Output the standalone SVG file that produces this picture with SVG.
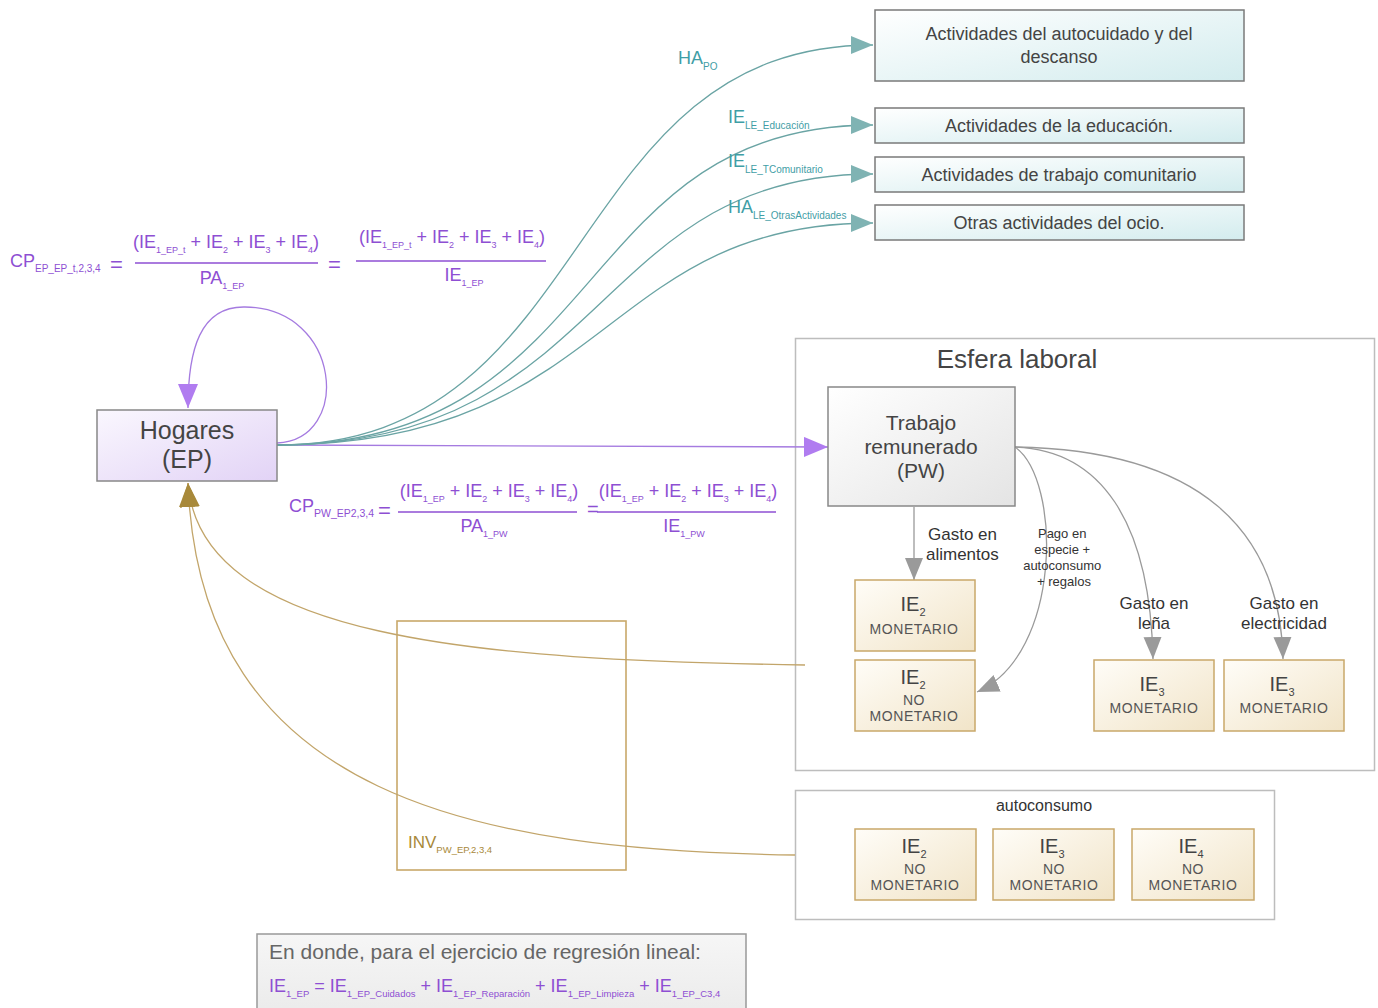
<svg xmlns="http://www.w3.org/2000/svg" width="1378" height="1008" viewBox="0 0 1378 1008">
  <style>
    text { font-family: "Liberation Sans", Arial, sans-serif; }
    .node { fill: #444; text-anchor: middle; }
    .purple { fill: #8e4fd3; }
    .teal { fill: #3f9ea6; }
    .tan { fill: #a8893a; }
    .lbl { fill: #333; text-anchor: middle; }
    .frame { fill: #fff; stroke: #bdbdbd; stroke-width: 1.5; }
    .beige { fill: url(#gBeige); stroke: #c9a86a; stroke-width: 1.5; }
    .tealbox { fill: url(#gTeal); stroke: #7a7a7a; stroke-width: 1.5; }
    .conn-teal { fill: none; stroke: #6aa4a4; stroke-width: 1.3; }
    .conn-gray { fill: none; stroke: #9a9a9a; stroke-width: 1.3; }
    .conn-purple { fill: none; stroke: #a57be0; stroke-width: 1.3; }
    .conn-tan { fill: none; stroke: #c2a56a; stroke-width: 1.3; }
    .fracline { stroke: #8e4fd3; stroke-width: 1.6; }
    .mon { fill: #555; text-anchor: middle; font-size: 14px; letter-spacing: 0.6px; }
  </style>
  <defs>
    <linearGradient id="gTeal" x1="0" y1="0" x2="1" y2="1">
      <stop offset="0" stop-color="#ffffff"/>
      <stop offset="1" stop-color="#d3ecee"/>
    </linearGradient>
    <linearGradient id="gBeige" x1="0" y1="0" x2="1" y2="1">
      <stop offset="0" stop-color="#fffdf8"/>
      <stop offset="1" stop-color="#f1e4c8"/>
    </linearGradient>
    <linearGradient id="gPurple" x1="0" y1="0" x2="1" y2="1">
      <stop offset="0" stop-color="#faf7fe"/>
      <stop offset="1" stop-color="#e2d3f6"/>
    </linearGradient>
    <linearGradient id="gGray" x1="0" y1="0" x2="1" y2="1">
      <stop offset="0" stop-color="#ffffff"/>
      <stop offset="1" stop-color="#e4e4e4"/>
    </linearGradient>
    <linearGradient id="gNote" x1="0" y1="0" x2="0" y2="1">
      <stop offset="0" stop-color="#f6f6f6"/>
      <stop offset="1" stop-color="#ebebeb"/>
    </linearGradient>
    <marker id="aTeal" markerUnits="userSpaceOnUse" markerWidth="24" markerHeight="20" refX="22" refY="9" orient="auto">
      <path d="M0,0 L22,9 L0,18 Z" fill="#7fb3b3"/>
    </marker>
    <marker id="aGray" markerUnits="userSpaceOnUse" markerWidth="24" markerHeight="20" refX="22" refY="9" orient="auto">
      <path d="M0,0 L22,9 L0,18 Z" fill="#9a9a9a"/>
    </marker>
    <marker id="aPurple" markerUnits="userSpaceOnUse" markerWidth="26" markerHeight="22" refX="24" refY="10" orient="auto">
      <path d="M0,0 L24,10 L0,20 Z" fill="#b07cf0"/>
    </marker>
    <marker id="aTan" markerUnits="userSpaceOnUse" markerWidth="26" markerHeight="22" refX="24" refY="10" orient="auto">
      <path d="M0,0 L24,10 L0,20 Z" fill="#a8893a"/>
    </marker>
  </defs>

  <rect width="1378" height="1008" fill="#ffffff"/>

  <!-- containers -->
  <g id="esfera-laboral">
    <rect class="frame" x="795.5" y="338.5" width="579" height="432"/>
    <text x="1017" y="368" font-size="26" fill="#444" text-anchor="middle">Esfera laboral</text>
  </g>
  <g id="autoconsumo">
    <rect class="frame" x="795.5" y="790.5" width="479" height="129"/>
    <text x="1044" y="811" font-size="16" fill="#333" text-anchor="middle">autoconsumo</text>
  </g>
  <g id="inv">
    <rect x="397" y="621" width="229" height="249" fill="none" stroke="#c9a86a" stroke-width="1.6"/>
    <text x="408" y="848" font-size="17" class="tan">INV<tspan font-size="9.5" dy="5">PW_EP,2,3,4</tspan></text>
  </g>

  <!-- connectors -->
  <g id="connectors">
    <path class="conn-purple" d="M277,443 C352,440 342,308 245,307 C200,306 188,350 188,408" marker-end="url(#aPurple)"/>
    <path class="conn-purple" d="M277,445 L828,447" marker-end="url(#aPurple)"/>
    <path class="conn-teal" d="M277,445 C600,445 560,45 873,45" marker-end="url(#aTeal)"/>
    <path class="conn-teal" d="M277,445 C610,445 570,125 873,125" marker-end="url(#aTeal)"/>
    <path class="conn-teal" d="M277,445 C610,445 590,174 873,174" marker-end="url(#aTeal)"/>
    <path class="conn-teal" d="M277,445 C610,445 600,223 873,223" marker-end="url(#aTeal)"/>
    <path class="conn-gray" d="M914,507 L914,580" marker-end="url(#aGray)"/>
    <path class="conn-gray" d="M1015,447 C1062,480 1062,655 977,692" marker-end="url(#aGray)"/>
    <path class="conn-gray" d="M1015,447 C1100,450 1150,520 1153,659" marker-end="url(#aGray)"/>
    <path class="conn-gray" d="M1015,447 C1200,450 1280,530 1283,659" marker-end="url(#aGray)"/>
    <path class="conn-tan" d="M805,665 C480,660 200,640 188,483" marker-end="url(#aTan)"/>
    <path class="conn-tan" d="M795,855 C480,850 200,800 188,483" marker-end="url(#aTan)"/>
  </g>

  <!-- connector labels -->
  <g id="connector-labels">
    <text x="678" y="64" font-size="18" class="teal">HA<tspan font-size="10" dy="6">PO</tspan></text>
    <text x="728" y="123" font-size="18" class="teal">IE<tspan font-size="10" dy="6">LE_Educación</tspan></text>
    <text x="728" y="167" font-size="18" class="teal">IE<tspan font-size="10" dy="6">LE_TComunitario</tspan></text>
    <text x="728" y="213" font-size="18" class="teal">HA<tspan font-size="10" dy="6">LE_OtrasActividades</tspan></text>
    <text x="928" y="540" font-size="17" fill="#333">Gasto en</text>
    <text x="926" y="560" font-size="17" fill="#333">alimentos</text>
    <text class="lbl" font-size="13">
      <tspan x="1064" y="538">Pago en</tspan>
      <tspan x="1064" y="554">especie +</tspan>
      <tspan x="1064" y="570">autoconsumo</tspan>
      <tspan x="1064" y="586">+ regalos</tspan>
    </text>
    <text class="lbl" font-size="17"><tspan x="1154" y="609">Gasto en</tspan><tspan x="1154" y="629">leña</tspan></text>
    <text class="lbl" font-size="17"><tspan x="1284" y="609">Gasto en</tspan><tspan x="1284" y="629">electricidad</tspan></text>
  </g>

  <!-- nodes -->
  <g id="hogares">
    <rect x="97" y="410" width="180" height="71" fill="url(#gPurple)" stroke="#888" stroke-width="1.5"/>
    <text class="node" font-size="25"><tspan x="187" y="439">Hogares</tspan><tspan x="187" y="468">(EP)</tspan></text>
  </g>
  <g id="trabajo">
    <rect x="828" y="387" width="187" height="119" fill="url(#gGray)" stroke="#888" stroke-width="1.5"/>
    <text class="node" font-size="21"><tspan x="921" y="430">Trabajo</tspan><tspan x="921" y="454">remunerado</tspan><tspan x="921" y="478">(PW)</tspan></text>
  </g>
  <g id="act-autocuidado">
    <rect class="tealbox" x="875" y="10" width="369" height="71"/>
    <text class="node" font-size="18"><tspan x="1059" y="40">Actividades del autocuidado y del</tspan><tspan x="1059" y="63">descanso</tspan></text>
  </g>
  <g id="act-educacion">
    <rect class="tealbox" x="875" y="108" width="369" height="35"/>
    <text class="node" font-size="18" x="1059" y="132">Actividades de la educación.</text>
  </g>
  <g id="act-comunitario">
    <rect class="tealbox" x="875" y="157" width="369" height="35"/>
    <text class="node" font-size="18" x="1059" y="181">Actividades de trabajo comunitario</text>
  </g>
  <g id="act-ocio">
    <rect class="tealbox" x="875" y="205" width="369" height="35"/>
    <text class="node" font-size="18" x="1059" y="229">Otras actividades del ocio.</text>
  </g>

  <g id="ie2-monetario">
    <rect class="beige" x="855" y="580" width="120" height="71"/>
    <text class="node" font-size="20" x="913" y="611">IE<tspan font-size="11" dy="5">2</tspan></text>
    <text class="mon" x="914" y="634">MONETARIO</text>
  </g>
  <g id="ie2-no-monetario">
    <rect class="beige" x="855" y="660" width="120" height="71"/>
    <text class="node" font-size="20" x="913" y="684">IE<tspan font-size="11" dy="5">2</tspan></text>
    <text class="mon" x="914" y="705">NO</text>
    <text class="mon" x="914" y="721">MONETARIO</text>
  </g>
  <g id="ie3-lena">
    <rect class="beige" x="1094" y="660" width="120" height="71"/>
    <text class="node" font-size="20" x="1152" y="691">IE<tspan font-size="11" dy="5">3</tspan></text>
    <text class="mon" x="1154" y="713">MONETARIO</text>
  </g>
  <g id="ie3-electricidad">
    <rect class="beige" x="1224" y="660" width="120" height="71"/>
    <text class="node" font-size="20" x="1282" y="691">IE<tspan font-size="11" dy="5">3</tspan></text>
    <text class="mon" x="1284" y="713">MONETARIO</text>
  </g>
  <g id="auto-ie2">
    <rect class="beige" x="855" y="829" width="121" height="71"/>
    <text class="node" font-size="20" x="914" y="853">IE<tspan font-size="11" dy="5">2</tspan></text>
    <text class="mon" x="915" y="874">NO</text>
    <text class="mon" x="915" y="890">MONETARIO</text>
  </g>
  <g id="auto-ie3">
    <rect class="beige" x="993" y="829" width="121" height="71"/>
    <text class="node" font-size="20" x="1052" y="853">IE<tspan font-size="11" dy="5">3</tspan></text>
    <text class="mon" x="1054" y="874">NO</text>
    <text class="mon" x="1054" y="890">MONETARIO</text>
  </g>
  <g id="auto-ie4">
    <rect class="beige" x="1132" y="829" width="122" height="71"/>
    <text class="node" font-size="20" x="1191" y="853">IE<tspan font-size="11" dy="5">4</tspan></text>
    <text class="mon" x="1193" y="874">NO</text>
    <text class="mon" x="1193" y="890">MONETARIO</text>
  </g>

  <!-- formula: CP EP -->
  <g id="formula-cp-ep" class="purple">
    <text x="10" y="267" font-size="18">CP<tspan font-size="10" dy="5">EP_EP_t,2,3,4</tspan></text>
    <text x="110" y="272" font-size="22">=</text>
    <text x="226" y="248" font-size="18" text-anchor="middle">(IE<tspan font-size="9" dy="5">1_EP_t</tspan><tspan dy="-5"> + IE</tspan><tspan font-size="9" dy="5">2</tspan><tspan dy="-5"> + IE</tspan><tspan font-size="9" dy="5">3</tspan><tspan dy="-5"> + IE</tspan><tspan font-size="9" dy="5">4</tspan><tspan dy="-5">)</tspan></text>
    <line class="fracline" x1="135" y1="263" x2="318" y2="263"/>
    <text x="222" y="284" font-size="18" text-anchor="middle">PA<tspan font-size="9" dy="5">1_EP</tspan></text>
    <text x="328" y="272" font-size="22">=</text>
    <text x="452" y="243" font-size="18" text-anchor="middle">(IE<tspan font-size="9" dy="5">1_EP_t</tspan><tspan dy="-5"> + IE</tspan><tspan font-size="9" dy="5">2</tspan><tspan dy="-5"> + IE</tspan><tspan font-size="9" dy="5">3</tspan><tspan dy="-5"> + IE</tspan><tspan font-size="9" dy="5">4</tspan><tspan dy="-5">)</tspan></text>
    <line class="fracline" x1="356" y1="261" x2="546" y2="261"/>
    <text x="464" y="281" font-size="18" text-anchor="middle">IE<tspan font-size="9" dy="5">1_EP</tspan></text>
  </g>

  <!-- formula: CP PW -->
  <g id="formula-cp-pw" class="purple">
    <text x="289" y="512" font-size="18">CP<tspan font-size="10.5" dy="5">PW_EP2,3,4</tspan></text>
    <text x="378" y="518" font-size="22">=</text>
    <text x="489" y="497" font-size="18" text-anchor="middle">(IE<tspan font-size="9" dy="5">1_EP</tspan><tspan dy="-5"> + IE</tspan><tspan font-size="9" dy="5">2</tspan><tspan dy="-5"> + IE</tspan><tspan font-size="9" dy="5">3</tspan><tspan dy="-5"> + IE</tspan><tspan font-size="9" dy="5">4</tspan><tspan dy="-5">)</tspan></text>
    <line class="fracline" x1="398" y1="512" x2="577" y2="512"/>
    <text x="484" y="532" font-size="18" text-anchor="middle">PA<tspan font-size="9" dy="5">1_PW</tspan></text>
    <text x="587" y="516" font-size="20">=</text>
    <text x="688" y="497" font-size="18" text-anchor="middle">(IE<tspan font-size="9" dy="5">1_EP</tspan><tspan dy="-5"> + IE</tspan><tspan font-size="9" dy="5">2</tspan><tspan dy="-5"> + IE</tspan><tspan font-size="9" dy="5">3</tspan><tspan dy="-5"> + IE</tspan><tspan font-size="9" dy="5">4</tspan><tspan dy="-5">)</tspan></text>
    <line class="fracline" x1="597" y1="512" x2="776" y2="512"/>
    <text x="684" y="532" font-size="18" text-anchor="middle">IE<tspan font-size="9" dy="5">1_PW</tspan></text>
  </g>

  <!-- regression note -->
  <g id="nota-regresion">
    <rect x="257" y="934" width="489" height="80" fill="url(#gNote)" stroke="#999" stroke-width="1.5"/>
    <text x="269" y="959" font-size="21" fill="#666">En donde, para el ejercicio de regresión lineal:</text>
    <text x="269" y="992" font-size="18" class="purple">IE<tspan font-size="9.5" dy="5">1_EP</tspan><tspan dy="-5"> = IE</tspan><tspan font-size="9.5" dy="5">1_EP_Cuidados</tspan><tspan dy="-5"> + IE</tspan><tspan font-size="9.5" dy="5">1_EP_Reparación</tspan><tspan dy="-5"> + IE</tspan><tspan font-size="9.5" dy="5">1_EP_Limpieza</tspan><tspan dy="-5"> + IE</tspan><tspan font-size="9.5" dy="5">1_EP_C3,4</tspan></text>
  </g>
</svg>
